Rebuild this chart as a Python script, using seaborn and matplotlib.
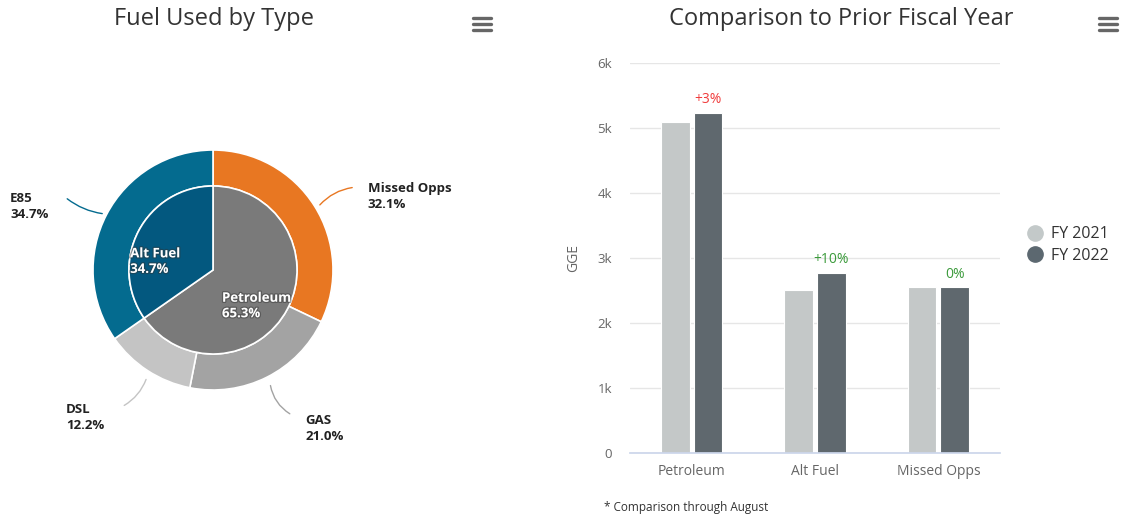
import numpy as np
import pandas as pd
import seaborn as sns
import matplotlib.pyplot as plt
import matplotlib.patheffects as pe
from matplotlib.lines import Line2D

# pie data
inner_labels = ["Petroleum", "Alt Fuel"]
inner_pct = [65.3, 34.7]
outer_labels = ["Missed Opps", "GAS", "DSL", "E85"]
outer_pct = [32.1, 21.0, 12.2, 34.7]

# bar data
categories = ["Petroleum", "Alt Fuel", "Missed Opps"]
fy2021 = [5090, 2510, 2550]
fy2022 = [5230, 2770, 2550]
changes = ["+3%", "+10%", "0%"]
change_colors = ["#f03b3b", "#3a9a3a", "#3a9a3a"]

sns.set_theme(style="white")
plt.rcParams["font.family"] = ["Open Sans", "DejaVu Sans"]

W, H = 1124, 518
fig = plt.figure(figsize=(W / 100, H / 100), dpi=100)

def fx(px):
    return px / W

def fy(py):
    return 1 - py / H

# ---------- pie ----------
cx, cy, R = 213, 270, 120
pax = fig.add_axes([fx(cx - 150), fy(cy + 150), fx(300), 300 / H])
pax.set_aspect("equal")
pax.axis("off")

outer_colors = ["#e87722", "#a3a3a3", "#c4c4c4", "#046b8f"]
inner_colors = ["#7a7a7a", "#03587f"]

pax.pie(outer_pct, radius=1.0, colors=outer_colors, startangle=90, counterclock=False,
        wedgeprops=dict(width=0.3, edgecolor="white", linewidth=1.2))
pax.pie(inner_pct, radius=0.7, colors=inner_colors, startangle=90, counterclock=False,
        wedgeprops=dict(edgecolor="white", linewidth=1.2))
pax.set_xlim(-1.25, 1.25)
pax.set_ylim(-1.25, 1.25)

shadow = [pe.withStroke(linewidth=1.8, foreground="#333333", alpha=0.45)]
pax.text(-0.69, 0.07, f"{inner_labels[1]}\n{inner_pct[1]}%", color="white", fontsize=9.5,
         fontweight="bold", ha="left", va="center", linespacing=1.25, path_effects=shadow)
pax.text(0.075, -0.3, f"{inner_labels[0]}\n{inner_pct[0]}%", color="white", fontsize=9.5,
         fontweight="bold", ha="left", va="center", linespacing=1.25, path_effects=shadow)

# outer labels with connectors
conn = [
    ((0.875, 0.525), (1.183, 0.69), (1.29, 0.61), -0.2),
    ((0.475, -0.94), (0.66, -1.21), (0.77, -1.32), 0.25),
    ((-0.55, -0.89), (-0.76, -1.14), (-1.225, -1.23), -0.2),
    ((-0.9, 0.467), (-1.233, 0.608), (-1.69, 0.53), -0.15),
]
for lab, pct, col, (p0, p1, tp, rad) in zip(outer_labels, outer_pct, outer_colors, conn):
    pax.annotate("", xy=p1, xytext=p0,
                 arrowprops=dict(arrowstyle="-", color=col, lw=1,
                                 connectionstyle=f"arc3,rad={rad}"))
    pax.text(tp[0], tp[1], f"{lab}\n{pct:.1f}%", fontsize=9.5, fontweight="bold",
             color="#222222", ha="left", va="center", linespacing=1.3)

fig.text(fx(214), fy(19), "Fuel Used by Type", ha="center", va="center",
         fontsize=17, color="#333333")

# ---------- bars ----------
df = pd.DataFrame({
    "category": categories * 2,
    "year": ["FY 2021"] * 3 + ["FY 2022"] * 3,
    "GGE": fy2021 + fy2022,
})
bar_colors = ["#c3c9c9", "#5c6870"]
bax = fig.add_axes([fx(630), fy(453), fx(370), 390 / H])
sns.barplot(data=df, x="category", y="GGE", hue="year", palette=bar_colors,
            width=0.53, gap=0.12, ax=bax, legend=False, edgecolor="white", linewidth=0.8)
bax.set_ylim(0, 6000)
bax.set_yticks(range(0, 7000, 1000))
bax.set_yticklabels(["0", "1k", "2k", "3k", "4k", "5k", "6k"])
bax.yaxis.grid(True, color="#e6e6e6", linewidth=1)
bax.set_axisbelow(True)
for s in ["top", "right", "left"]:
    bax.spines[s].set_visible(False)
bax.spines["bottom"].set_color("#ccd6eb")
bax.tick_params(axis="y", colors="#666666", labelsize=9.5, length=0, pad=13)
bax.tick_params(axis="x", colors="#666666", labelsize=10, length=0, pad=8)
bax.set_xlabel("")
bax.set_ylabel("GGE", color="#666666", fontsize=10, labelpad=12)

# change labels above FY2022 bars
bars22 = bax.containers[1]
for rect, txt, col in zip(bars22, changes, change_colors):
    bax.annotate(txt, (rect.get_x() + rect.get_width() / 2, rect.get_height()),
                 xytext=(0, 4), textcoords="offset points", ha="center", va="bottom",
                 fontsize=10, color=col)

fig.text(fx(841), fy(19), "Comparison to Prior Fiscal Year", ha="center", va="center",
         fontsize=17, color="#333333")
fig.text(fx(604), fy(508), "* Comparison through August", fontsize=8.5, color="#333333",
         va="center")

handles = [Line2D([], [], marker="o", linestyle="", markersize=11, color=c) for c in bar_colors]
fig.legend(handles, ["FY 2021", "FY 2022"], loc="center left",
           bbox_to_anchor=(fx(1005), fy(245)), frameon=False, fontsize=11.5,
           handletextpad=0.0, labelspacing=0.35, labelcolor="#333333")

# menu icons
for mx in (482, 1108):
    for my in (18, 24, 30):
        fig.add_artist(Line2D([fx(mx - 9), fx(mx + 9)], [fy(my), fy(my)],
                              color="#666666", lw=2.4, solid_capstyle="round"))

fig.savefig("out.png", dpi=100)
